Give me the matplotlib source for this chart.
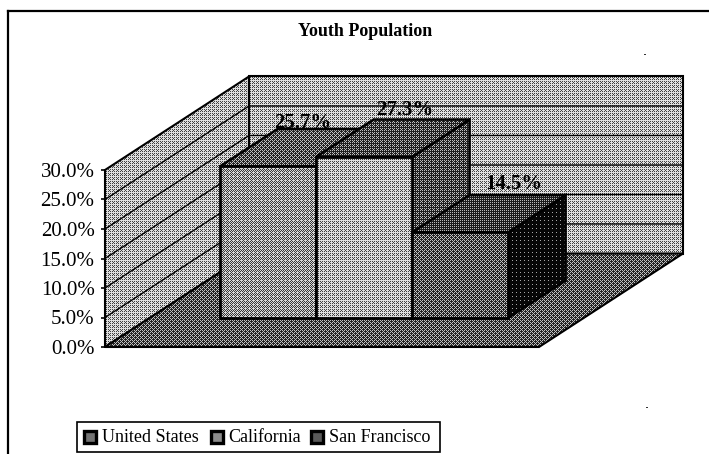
import numpy as np
import matplotlib
matplotlib.use("Agg")
import matplotlib.pyplot as plt
from matplotlib.patches import Polygon, Rectangle
from matplotlib.transforms import ScaledTranslation

categories = ["United States", "California", "San Francisco"]
values = [25.7, 27.3, 14.5]
value_labels = ["25.7%", "27.3%", "14.5%"]
y_ticks = [0, 5, 10, 15, 20, 25, 30]
y_tick_labels = ["0.0%", "5.0%", "10.0%", "15.0%", "20.0%", "25.0%", "30.0%"]
title = "Youth Population"

W, H = 709, 454
plt.rcParams["font.family"] = ["Liberation Serif", "DejaVu Serif"]
fig = plt.figure(figsize=(W / 100, H / 100), dpi=100, facecolor="white")
ax = fig.add_axes([0, 0, 1, 1])

# value scale: 0% at pixel row 347, 30% at pixel row 170
PX = (347 - 170) / 30.0
ax.set_xlim(0, W)
ax.set_ylim(-(H - 347) / PX, 347 / PX)
ax.patch.set_alpha(0)

DX, DY = 144.0, 93.5 / PX   # full floor depth
X0, X1 = 105.0, 539.0       # front floor edge

def P(x, v, d=0.0):
    return (x + DX * d, v + DY * d)

bayer = np.array([[0, 8, 2, 10], [12, 4, 14, 6], [3, 11, 1, 9], [15, 7, 13, 5]]) / 16.0 + 1 / 32
tile = np.tile(bayer, (H // 4 + 1, W // 4 + 1))[:H, :W]

def face(pts, gray, edge="black", lw=1.6, z=1.0):
    tex = (tile < gray).astype(float)
    tex = np.clip(gray + (tex - gray) * 0.62, 0, 1)
    poly = Polygon(pts, closed=True, facecolor="none", edgecolor="none", zorder=z)
    ax.add_patch(poly)
    ylo, yhi = ax.get_ylim()
    im = ax.imshow(tex, extent=(0, W, ylo, yhi), origin="upper", cmap="gray", vmin=0, vmax=1,
                   aspect="auto", interpolation="nearest", zorder=z)
    im.set_clip_path(poly)
    ax.add_patch(Polygon(pts, closed=True, facecolor="none", edgecolor=edge, lw=lw,
                         joinstyle="miter", zorder=z + 0.01))

# walls and floor
top = y_ticks[-1]
face([P(X0, 0), P(X0, top), P(X0, top, 1), P(X0, 0, 1)], 0.66, lw=1.5, z=1)
face([P(X0, 0, 1), P(X0, top, 1), P(X1, top, 1), P(X1, 0, 1)], 0.68, lw=1.5, z=1)
face([P(X0, 0), P(X0, 0, 1), P(X1, 0, 1), P(X1, 0)], 0.36, lw=1.5, z=1.2)
for v in y_ticks[1:-1]:
    xs, ys = zip(P(X0, v), P(X0, v, 1), P(X1, v, 1))
    ax.plot(xs, ys, color="black", lw=1.0, zorder=1.1, solid_joinstyle="miter")

# bars
D0, D1 = 0.31, 0.71
BAR_X = 220.0 - DX * D0
BAR_W = 96.0
front_gray = [0.57, 0.66, 0.38]
top_gray = [0.38, 0.33, 0.28]
side_gray = [0.30, 0.32, 0.07]
for i in range(len(values)):
    v = values[i]
    a = BAR_X + i * BAR_W
    b = a + BAR_W
    z = 3 + i
    face([P(b, 0, D0), P(b, v, D0), P(b, v, D1), P(b, 0, D1)], side_gray[i], lw=1.8, z=z)
    face([P(a, v, D0), P(a, v, D1), P(b, v, D1), P(b, v, D0)], top_gray[i], lw=1.8, z=z + 0.1)
    face([P(a, 0, D0), P(a, v, D0), P(b, v, D0), P(b, 0, D0)], front_gray[i], lw=2.0, z=z + 0.2)

# value labels
lab_off = [(-23, 6), (-17, 10), (-4, 11)]
for i, (v, s) in enumerate(zip(values, value_labels)):
    x, y = P(BAR_X + (i + 0.5) * BAR_W, v, D1)
    ax.text(x + lab_off[i][0], y + lab_off[i][1] / PX, s, ha="center", va="center",
            fontsize=15, fontweight="bold", color="black", zorder=9)

# value axis
ax.set_xticks([])
ax.set_yticks(y_ticks)
ax.set_yticklabels(y_tick_labels)
ax.tick_params(axis="y", length=3, width=1.2, pad=4.5, labelsize=15, labelcolor="black")
shift = ScaledTranslation(0, -2 / 100, fig.dpi_scale_trans)
for lab in ax.get_yticklabels():
    lab.set_transform(lab.get_transform() + shift)
for s in ("top", "right", "bottom"):
    ax.spines[s].set_visible(False)
ax.spines["left"].set_position(("data", X0))
ax.spines["left"].set_bounds(0, top)
ax.spines["left"].set_linewidth(1.4)
ax.spines["left"].set_zorder(8)

# chart frame: top and left edges only
fig.add_artist(plt.Line2D([8 / W, 8 / W], [0, 1 - 11 / H], color="black", lw=1.6))
fig.add_artist(plt.Line2D([8 / W, 1], [1 - 11 / H, 1 - 11 / H], color="black", lw=1.6))

fig.text(365 / W, 1 - 31 / H, title, ha="center", va="center", fontsize=13,
         fontweight="bold", color="black")

# legend
fig.add_artist(Rectangle((77 / W, 1 - 452 / H), 363 / W, 30 / H, transform=fig.transFigure,
                         facecolor="white", edgecolor="black", lw=1.2))
leg_x = [84, 211, 311]
leg_text_x = [102, 228, 329]
leg_gray = [0.45, 0.55, 0.35]
for x, tx, name, g in zip(leg_x, leg_text_x, categories, leg_gray):
    fig.add_artist(Rectangle((x / W, 1 - 443 / H), 12 / W, 12 / H, transform=fig.transFigure,
                             facecolor=str(g), edgecolor="black", lw=2.4))
    fig.text(tx / W, 1 - 437.5 / H, name, ha="left", va="center", fontsize=13, color="black")

# small specks present in the scan
for px, py in [(644, 54), (646, 407)]:
    fig.add_artist(Rectangle((px / W, 1 - (py + 1) / H), 2 / W, 1.5 / H, transform=fig.transFigure,
                             facecolor="#333333", edgecolor="none"))

fig.savefig("out.png", dpi=100)
